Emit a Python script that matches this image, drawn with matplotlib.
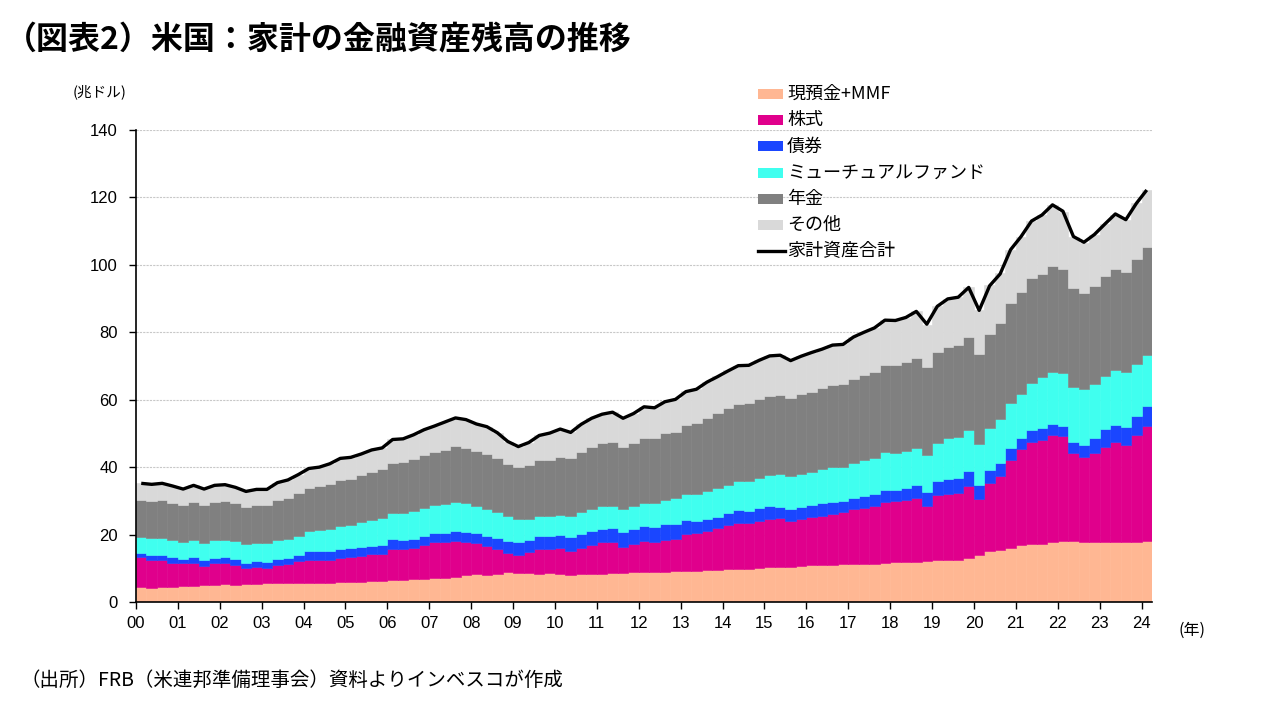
import numpy as np
import matplotlib
matplotlib.use("Agg")
import matplotlib.pyplot as plt
from matplotlib.patches import Rectangle
from matplotlib.lines import Line2D

plt.rcParams['font.family'] = ['Noto Sans CJK JP', 'DejaVu Sans']

# ---------------- data (quarterly, 2000Q1 - 2024Q1, trillion USD) ----------------
year_labels = ['00', '01', '02', '03', '04', '05', '06', '07', '08', '09', '10', '11',
               '12', '13', '14', '15', '16', '17', '18', '19', '20', '21', '22', '23', '24']

series_names = ['現預金+MMF', '株式', '債券', 'ミューチュアルファンド', '年金', 'その他']
total_name = '家計資産合計'

cash = [4.5, 4.2, 4.5, 4.5, 4.8, 4.8, 5.0, 5.0, 5.3, 5.0, 5.3, 5.3,
        5.6, 5.6, 5.6, 5.6, 5.6, 5.6, 5.6, 5.9, 5.9, 5.9, 6.2, 6.2,
        6.5, 6.5, 6.8, 6.8, 7.1, 7.1, 7.4, 8.0, 8.3, 8.0, 8.3, 8.9,
        8.6, 8.6, 8.3, 8.6, 8.3, 8.0, 8.3, 8.3, 8.3, 8.6, 8.6, 8.9,
        8.9, 8.9, 8.9, 9.2, 9.2, 9.2, 9.5, 9.5, 9.8, 9.8, 9.8, 10.1,
        10.4, 10.4, 10.4, 10.7, 11.0, 11.0, 11.0, 11.3, 11.3, 11.3, 11.3, 11.6,
        11.9, 11.9, 11.9, 12.2, 12.5, 12.5, 12.5, 13.1, 14.0, 15.2, 15.5, 16.0,
        16.9, 17.2, 17.2, 17.8, 18.1, 18.1, 17.9, 17.9, 17.9, 17.9, 17.9, 17.9, 18.2]

stocks = [8.7, 8.4, 8.1, 7.2, 6.7, 6.9, 5.7, 6.5, 6.2, 5.9, 4.9, 5.0,
          4.6, 5.3, 5.8, 6.5, 6.9, 6.9, 6.9, 7.2, 7.5, 7.8, 8.1, 8.1,
          9.3, 9.3, 9.3, 10.0, 10.7, 10.7, 10.7, 9.8, 9.2, 8.7, 7.5, 5.5,
          5.4, 6.3, 7.3, 7.0, 7.8, 7.2, 7.8, 8.5, 9.6, 9.3, 7.8, 8.4,
          9.1, 8.9, 9.6, 9.5, 11.1, 11.3, 11.5, 12.5, 13.0, 13.5, 13.6, 13.9,
          14.1, 14.6, 13.5, 13.9, 14.2, 14.6, 15.2, 15.5, 16.3, 16.7, 17.3, 18.2,
          18.0, 18.3, 18.9, 16.4, 19.2, 19.5, 19.8, 21.4, 16.5, 20.1, 22.0, 26.1,
          28.4, 30.4, 30.8, 31.6, 31.0, 26.0, 25.0, 26.2, 28.0, 29.7, 28.6, 31.5, 34.0]

bonds = [1.4, 1.4, 1.4, 1.7, 1.3, 1.7, 1.7, 1.5, 1.8, 1.8, 1.5, 1.8,
         1.7, 1.8, 1.6, 1.8, 2.6, 2.6, 2.6, 2.6, 2.6, 2.6, 2.4, 2.6,
         3.0, 2.7, 2.7, 2.9, 2.8, 2.8, 3.1, 3.1, 3.0, 3.0, 3.2, 3.8,
         3.7, 3.5, 4.0, 4.0, 3.8, 4.1, 4.0, 4.4, 3.8, 4.1, 4.5, 4.4,
         4.5, 4.5, 4.7, 4.5, 4.1, 3.6, 3.7, 3.3, 3.7, 4.0, 3.6, 3.9,
         4.0, 3.2, 3.8, 3.6, 3.6, 3.8, 3.5, 3.2, 3.3, 3.5, 3.5, 3.5,
         3.3, 3.5, 3.8, 3.9, 4.1, 4.4, 4.4, 4.3, 4.1, 3.8, 3.7, 3.7,
         3.2, 3.3, 3.5, 3.3, 3.0, 3.3, 3.8, 4.4, 5.3, 5.0, 5.3, 5.9, 5.8]

funds = [4.8, 5.0, 5.0, 5.0, 5.0, 5.0, 5.0, 5.3, 5.0, 5.3, 5.5, 5.3,
         5.6, 5.6, 5.6, 5.6, 5.9, 6.2, 6.5, 6.8, 6.8, 7.4, 7.6, 8.0,
         7.7, 8.0, 8.2, 8.2, 8.2, 8.5, 8.5, 8.5, 8.0, 7.9, 7.7, 7.3,
         6.9, 6.2, 5.9, 5.9, 5.9, 6.2, 6.6, 6.4, 6.8, 6.5, 6.7, 6.8,
         6.8, 7.1, 7.1, 7.7, 7.7, 8.0, 8.3, 8.6, 8.3, 8.6, 8.9, 8.9,
         9.1, 9.8, 9.8, 9.8, 9.8, 10.0, 10.4, 10.1, 10.4, 10.7, 10.7, 11.2,
         11.1, 11.2, 11.2, 11.2, 11.5, 12.1, 12.1, 12.1, 12.4, 12.4, 13.0, 13.3,
         13.3, 14.2, 15.1, 15.4, 15.9, 16.5, 16.5, 16.2, 15.7, 16.2, 16.3, 15.4, 15.4]

pension = [10.9, 11.0, 11.3, 11.0, 11.0, 11.3, 11.3, 11.3, 11.6, 11.3, 11.0, 11.3,
           11.3, 11.9, 12.2, 12.8, 12.8, 13.1, 13.3, 13.6, 13.6, 13.9, 14.2, 14.5,
           14.7, 15.0, 15.4, 15.7, 15.7, 16.0, 16.6, 16.3, 16.3, 16.3, 16.0, 15.4,
           15.4, 16.0, 16.6, 16.6, 17.2, 17.2, 17.8, 18.4, 18.7, 19.0, 18.4, 18.7,
           19.3, 19.3, 19.9, 19.6, 20.5, 21.1, 21.7, 22.3, 22.6, 22.8, 23.1, 23.4,
           23.5, 23.4, 23.1, 23.7, 23.7, 24.1, 24.3, 24.6, 24.9, 25.2, 25.5, 25.9,
           26.1, 26.3, 26.6, 26.0, 26.9, 27.2, 27.5, 27.8, 26.6, 28.1, 28.7, 29.5,
           30.1, 31.0, 30.7, 31.6, 30.7, 29.2, 28.6, 28.9, 29.8, 30.1, 29.7, 31.0, 31.9]

other = [4.9, 4.9, 4.9, 5.0, 4.7, 4.9, 4.7, 4.9, 4.8, 4.6, 4.6, 4.6,
         4.6, 5.1, 5.4, 5.5, 5.8, 5.6, 6.0, 6.4, 6.4, 6.2, 6.5, 6.3,
         7.0, 6.8, 7.2, 7.5, 7.7, 8.3, 8.3, 8.4, 8.0, 8.1, 7.5, 6.6,
         6.0, 6.6, 7.3, 8.0, 8.3, 7.6, 8.2, 8.5, 8.5, 8.8, 8.5, 8.7,
         9.3, 9.0, 9.3, 9.7, 9.9, 10.0, 10.6, 10.8, 11.3, 11.4, 11.2, 11.5,
         11.9, 11.8, 11.1, 11.2, 11.7, 11.6, 11.9, 11.8, 12.5, 12.7, 13.1, 13.3,
         13.1, 13.1, 13.8, 12.6, 13.5, 14.2, 14.1, 14.7, 12.9, 14.3, 14.6, 15.9,
         16.4, 16.9, 17.5, 18.2, 17.1, 15.3, 14.8, 15.3, 15.5, 16.0, 15.6, 16.5, 17.0]

total = [35.2, 34.9, 35.2, 34.4, 33.5, 34.6, 33.5, 34.6, 34.8, 34.0, 32.8, 33.4,
         33.4, 35.4, 36.2, 37.8, 39.6, 40.0, 41.0, 42.6, 42.9, 43.9, 45.1, 45.7,
         48.2, 48.4, 49.6, 51.1, 52.2, 53.4, 54.6, 54.1, 52.8, 52.0, 50.2, 47.6,
         46.1, 47.3, 49.4, 50.1, 51.3, 50.3, 52.7, 54.5, 55.7, 56.3, 54.5, 55.9,
         57.9, 57.6, 59.4, 60.1, 62.4, 63.1, 65.2, 66.8, 68.5, 70.1, 70.2, 71.7,
         73.0, 73.2, 71.6, 72.9, 74.0, 75.0, 76.2, 76.4, 78.6, 80.0, 81.3, 83.6,
         83.5, 84.4, 86.2, 82.4, 87.7, 89.9, 90.4, 93.3, 86.5, 93.8, 97.3, 104.5,
         108.4, 113.0, 114.8, 117.8, 115.9, 108.4, 106.7, 109.0, 112.1, 115.1, 113.4, 118.2, 122.2]

colors = ['#FFB793', '#E0008C', '#1A46FF', '#40FFEF', '#808080', '#D9D9D9']

# ---------------- figure ----------------
W, H = 1280, 720
fig = plt.figure(figsize=(12.8, 7.2), dpi=100)
fig.patch.set_facecolor('white')

def fx(px):
    return px / W

def fy(py):
    return 1 - py / H

ax_l, ax_r, ax_t, ax_b = 136, 1152, 130, 602
ax = fig.add_axes([fx(ax_l), fy(ax_b), (ax_r - ax_l) / W, (ax_b - ax_t) / H])

n = len(total)
x = np.arange(n) + 0.5
data = [cash, stocks, bonds, funds, pension, other]
bottom = np.zeros(n)
for vals, col in zip(data, colors):
    v = np.array(vals)
    ax.bar(x, v, width=1.0, bottom=bottom, color=col, edgecolor=col,
           linewidth=0.4, zorder=2)
    bottom = bottom + v
ax.plot(x, total, color='black', lw=2.4, zorder=3, solid_joinstyle='round',
        solid_capstyle='butt')

ax.set_xlim(0, n)
ax.set_ylim(0, 140)
ax.set_yticks(range(0, 141, 20))
ax.set_xticks(np.arange(0, n, 4))
ax.set_xticklabels(year_labels)
ax.yaxis.grid(True, color='#C8C8C8', linestyle=(0, (2, 1)), lw=0.8, zorder=0)
ax.set_axisbelow(True)
for s in ['top', 'right']:
    ax.spines[s].set_visible(False)
for s in ['left', 'bottom']:
    ax.spines[s].set_color('black')
    ax.spines[s].set_linewidth(1.2)
    ax.spines[s].set_zorder(4)
ax.tick_params(axis='both', direction='out', length=5, width=1, colors='black',
               labelsize=12)
ax.tick_params(axis='y', pad=8)
ax.tick_params(axis='x', pad=5)
for lab in ax.get_xticklabels() + ax.get_yticklabels():
    lab.set_fontfamily(['Liberation Sans', 'DejaVu Sans'])

# ---------------- texts ----------------
fig.text(fx(5), fy(40), '（図表2）米国：家計の金融資産残高の推移', fontsize=23,
         fontweight='bold', ha='left', va='center', color='black')
fig.text(fx(100), fy(92), '(兆ドル)', fontsize=10.5, ha='center', va='center')
fig.text(fx(1192), fy(630), '(年)', fontsize=11.5, ha='center', va='center')
fig.text(fx(20), fy(680), '（出所）FRB（米連邦準備理事会）資料よりインベスコが作成',
         fontsize=14, ha='left', va='center')

# ---------------- legend ----------------
leg_x0, leg_x1, leg_text_x = 758, 783, 787
row0, drow = 94, 26.2
for i, (name, col) in enumerate(zip(series_names, colors)):
    yc = row0 + i * drow
    fig.add_artist(Rectangle((fx(leg_x0), fy(yc + 5)), (leg_x1 - leg_x0) / W, 10 / H,
                             transform=fig.transFigure, facecolor=col, edgecolor='none'))
    fig.text(fx(leg_text_x), fy(yc), name, fontsize=13, ha='left', va='center')
yc = row0 + 6 * drow
fig.add_artist(Line2D([fx(leg_x0), fx(leg_x1 + 2)], [fy(yc), fy(yc)],
                      transform=fig.transFigure, color='black', lw=2.4))
fig.text(fx(leg_text_x), fy(yc), total_name, fontsize=13, ha='left', va='center')

fig.savefig('out.png', dpi=100, facecolor='white')
